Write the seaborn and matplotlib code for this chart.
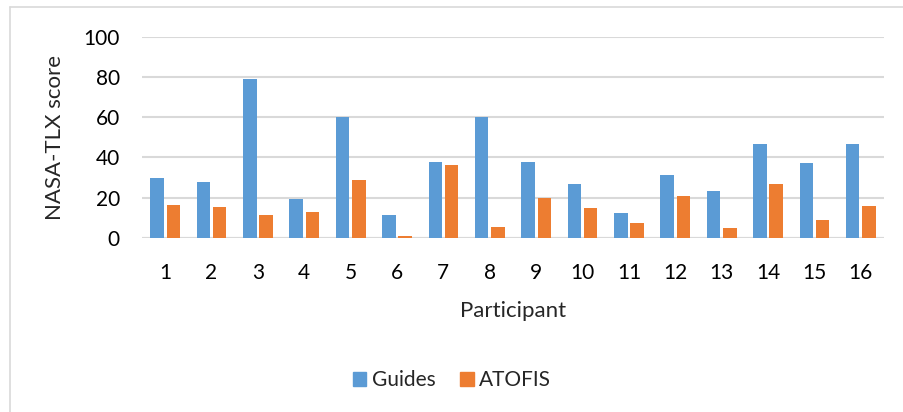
import matplotlib
matplotlib.use("Agg")
import matplotlib.pyplot as plt
import seaborn as sns
import pandas as pd
from matplotlib.lines import Line2D

participants = [str(i) for i in range(1, 17)]
guides = [30, 28, 79, 19.6, 60, 11.5, 38, 60, 38, 26.7, 12.4, 31.5, 23.2, 46.6, 37.5, 46.6]
atofis = [16.4, 15.5, 11.5, 13, 29, 1.2, 36.5, 5.5, 20, 15, 7.5, 20.7, 5, 26.7, 9, 15.8]
series_names = ["Guides", "ATOFIS"]
y_ticks = [0, 20, 40, 60, 80, 100]

df = pd.DataFrame({
    "Participant": participants * 2,
    "Score": guides + atofis,
    "Series": [series_names[0]] * len(participants) + [series_names[1]] * len(participants),
})

sns.set_theme(style="white")
plt.rcParams['font.family'] = ['Lato', 'DejaVu Sans']

fig = plt.figure(figsize=(9.04, 4.12), dpi=100)
ax = fig.add_axes([142/904, 1-238/412, (884-142)/904, (238-36.7)/412])

sns.barplot(data=df, x="Participant", y="Score", hue="Series", order=participants,
            hue_order=series_names, palette=["#5B9BD5", "#ED7D31"], width=0.7,
            saturation=1, linewidth=0, ax=ax, legend=False)

# small gap between the two bars of a group, as in the original
for p in ax.patches:
    w = p.get_width()
    p.set_x(p.get_x() + 0.03)
    p.set_width(w - 0.06)

ax.set_ylim(0, 100)
ax.set_yticks(y_ticks)
ax.yaxis.grid(True, color="#D9D9D9", linewidth=1.5)
ax.set_axisbelow(True)
for s in ["top", "right", "left", "bottom"]:
    ax.spines[s].set_visible(False)
ax.axhline(0, color="#D9D9D9", linewidth=1.5, zorder=0)
ax.tick_params(axis="both", length=0, labelsize=15, colors="#000000")
ax.tick_params(axis="y", pad=16)
ax.tick_params(axis="x", pad=18)
ax.set_xlim(-0.5, 15.5)
ax.set_xlabel("Participant", fontsize=16, labelpad=13)
ax.set_ylabel("NASA-TLX score", fontsize=16, labelpad=13)

handles = [plt.Rectangle((0, 0), 1, 1, color="#5B9BD5"), plt.Rectangle((0, 0), 1, 1, color="#ED7D31")]
fig.legend(handles, series_names, loc="center", bbox_to_anchor=(0.5, 1-380/412), ncol=2,
           frameon=False, fontsize=15, handlelength=0.65, handleheight=0.65, handletextpad=0.25,
           columnspacing=1.2)

fig.add_artist(Line2D([10/904, 10/904], [0, 1-7/412], color="#D9D9D9", linewidth=1.2, transform=fig.transFigure))
fig.add_artist(Line2D([10/904, 1], [1-7/412, 1-7/412], color="#D9D9D9", linewidth=1.2, transform=fig.transFigure))

fig.savefig("out.png", dpi=100, facecolor="white")
